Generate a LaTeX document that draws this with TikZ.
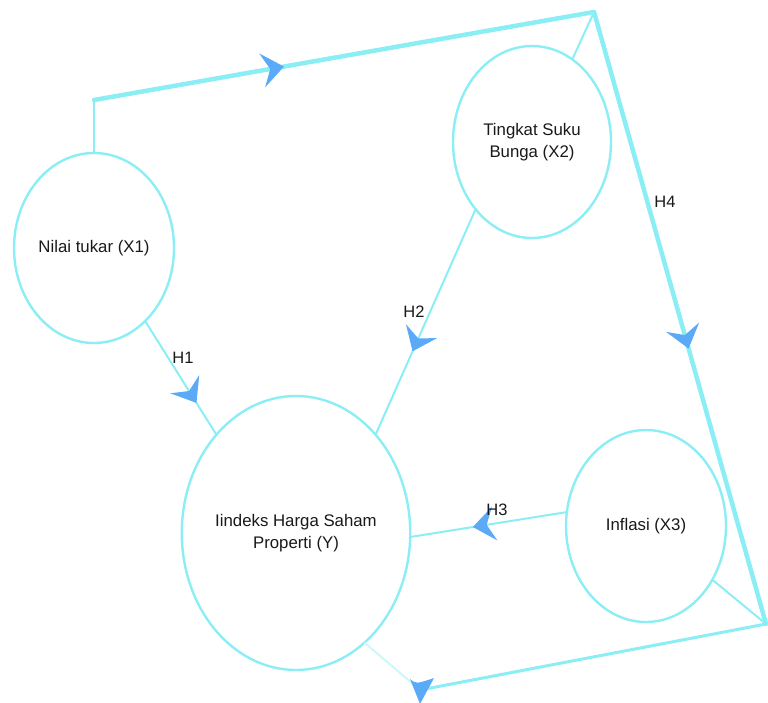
\documentclass[tikz,border=0pt]{standalone}
\usepackage{fontspec}
\setmainfont{Liberation Sans}
\usetikzlibrary{shapes.geometric,arrows.meta,decorations.markings}
\definecolor{linecyan}{RGB}{140,238,245}
\definecolor{palecyan}{RGB}{205,248,250}
\definecolor{arrowblue}{RGB}{90,170,248}
\tikzset{
  var/.style={ellipse,draw=linecyan,line width=2.4pt,inner sep=0pt,outer sep=0pt,align=center,
    font=\fontsize{16.8}{22}\selectfont,text=black!90},
  lab/.style={font=\fontsize{16.5}{18}\selectfont,text=black!90,inner sep=0pt},
  thin/.style={draw=linecyan,line width=2pt},
  thick/.style={draw=linecyan,line width=4.5pt},
  midarrow/.style={postaction={decorate},decoration={markings,
    mark=at position #1 with {\arrow[arrowblue]{Stealth[length=22pt,width=34pt,inset=8pt]}}}}
}
\begin{document}
\begin{tikzpicture}[x=1pt,y=-1pt]
\useasboundingbox (0,0) rectangle (768,702);
\node[var,minimum width=160pt,minimum height=190pt] (X1) at (94,248) {Nilai tukar (X1)};
\node[var,minimum width=158pt,minimum height=192pt] (X2) at (532,142) {Tingkat Suku\\Bunga (X2)};
\node[var,minimum width=226pt,minimum height=274pt] (Y) at (296,533) {Iindeks Harga Saham\\Properti (Y)};
\node[var,minimum width=160pt,minimum height=192pt] (X3) at (646,526) {Inflasi (X3)};
\coordinate (c1) at (94,100);
\coordinate (c2) at (594,12);
\coordinate (c3) at (766,624);
\coordinate (c4) at (420,690);
% outer path X1 -> top -> right -> bottom
\draw[thin] (X1.north) -- (c1);
\draw[thick,line cap=round,midarrow=0.38] (c1) -- (c2);
\draw[thin] (X2.64) -- (c2);
\draw[thick,line cap=round,midarrow=0.55] (c2) -- (c3);
\draw[thin] (X3.-39.7) -- (c3);
\draw[draw=linecyan,line width=3pt] (c3) -- (c4);
\draw[draw=palecyan,line width=2pt] (Y.-58.8) -- (c4);
\fill[arrowblue] (c4) ++(0,14) -- ++(-10,-25) .. controls ++(6,5) .. ++(24,-1) -- cycle;
% hypotheses
\draw[thin,midarrow=0.72] (X1.-55.8) -- (Y.129.6);
\draw[thin,midarrow=0.63] (X2.-130) -- (Y.51.3);
\draw[thin,midarrow=0.6] (X3.170) -- (Y.-2.5);
\node[lab] (H1) at (183,358) {H1};
\node[lab] (H2) at (414,312) {H2};
\node[lab] (H3) at (497,510) {H3};
\node[lab] (H4) at (665,202) {H4};
\end{tikzpicture}
\end{document}
